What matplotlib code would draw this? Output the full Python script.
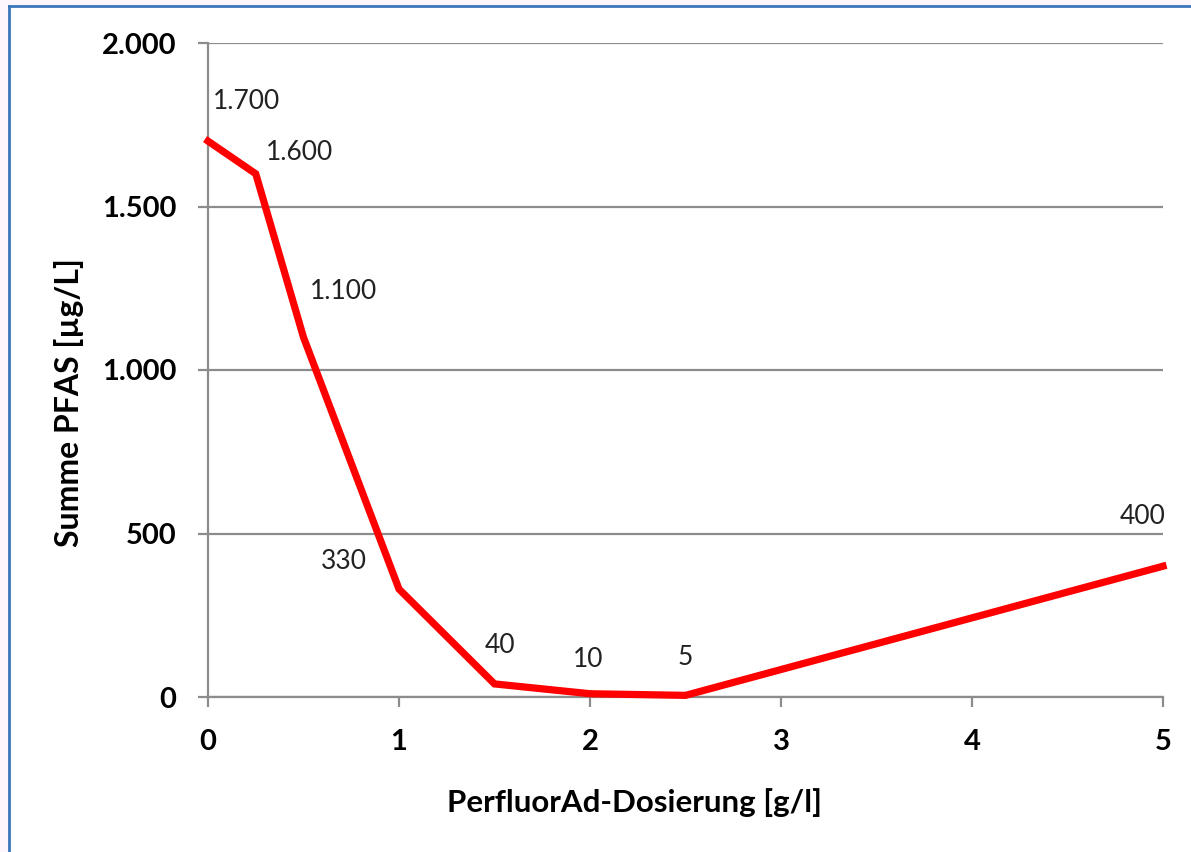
import matplotlib
matplotlib.use("Agg")
import matplotlib.pyplot as plt
from matplotlib.ticker import FuncFormatter
from matplotlib.patches import Rectangle
from matplotlib.lines import Line2D

# Data
dosierung = [0, 0.25, 0.5, 1, 1.5, 2, 2.5, 5]
pfas = [1700, 1600, 1100, 330, 40, 10, 5, 400]
labels = ["1.700", "1.600", "1.100", "330", "40", "10", "5", "400"]
x_ticks = [0, 1, 2, 3, 4, 5]
y_ticks = [0, 500, 1000, 1500, 2000]

# label offsets in pixels (dx, dy) relative to point, and alignment
offsets = [(5, 40, "left"), (10, 21, "left"), (6, 46, "left"), (-32, 28, "right"),
           (6, 38, "center"), (-2, 34, "center"), (0, 38, "center"), (-20, 50, "center")]

W, H = 1191, 852
plt.rcParams['font.family'] = ['Lato', 'DejaVu Sans']
fig = plt.figure(figsize=(W / 100, H / 100), dpi=100)
fig.patch.set_facecolor("white")

# outer light band + blue frame (top and left)
fig.patches.append(Rectangle((0, 0), 1, 1, transform=fig.transFigure, facecolor="#fdf6fd",
                             edgecolor="none", zorder=-3))
fig.patches.append(Rectangle((9 / W, 0), 1, 1 - 6 / H, transform=fig.transFigure,
                             facecolor="white", edgecolor="none", zorder=-2))
fig.lines.append(Line2D([9 / W, 1], [1 - 6 / H, 1 - 6 / H], transform=fig.transFigure,
                        color="#3b76bb", lw=2))
fig.lines.append(Line2D([9 / W, 9 / W], [0, 1 - 6 / H], transform=fig.transFigure,
                        color="#3b76bb", lw=2))

left, right, top, bottom = 208, 1163, 43, 697
ax = fig.add_axes([left / W, 1 - bottom / H, (right - left) / W, (bottom - top) / H])
ax.set_facecolor("none")

ax.plot(dosierung, pfas, color="#ff0000", lw=5.2, solid_joinstyle="miter", zorder=3,
        clip_on=False)

for xv, yv, lab, (dx, dy, ha) in zip(dosierung, pfas, labels, offsets):
    ax.annotate(lab, (xv, yv), xytext=(dx, dy), textcoords="offset pixels",
                ha=ha, va="center", fontsize=19, color="#222222")

ax.set_xlim(0, 5)
ax.set_ylim(0, 2000)
ax.set_xticks(x_ticks)
ax.set_yticks(y_ticks)
ax.yaxis.set_major_formatter(FuncFormatter(lambda v, p: f"{int(v):,}".replace(",", ".")))

grid_c = "#8c8c8c"
ax.grid(axis="y", color=grid_c, lw=1.6)
ax.set_axisbelow(True)
for s in ["top", "right"]:
    ax.spines[s].set_visible(False)
for s in ["left", "bottom"]:
    ax.spines[s].set_color(grid_c)
    ax.spines[s].set_linewidth(1.6)
ax.tick_params(axis="both", color=grid_c, width=1.6, length=7, direction="out")
ax.tick_params(axis="y", pad=16, labelsize=21)
ax.tick_params(axis="x", pad=16, labelsize=21)
for t in ax.get_xticklabels() + ax.get_yticklabels():
    t.set_fontweight("bold")

fig.text(634 / W, 1 - 803 / H, "PerfluorAd-Dosierung [g/l]", ha="center", va="center",
         fontsize=22.5, fontweight="bold")
fig.text(69 / W, 1 - 403 / H, "Summe PFAS [µg/L]", ha="center", va="center",
         fontsize=23, fontweight="bold", rotation=90)

fig.savefig("out.png", dpi=100)
